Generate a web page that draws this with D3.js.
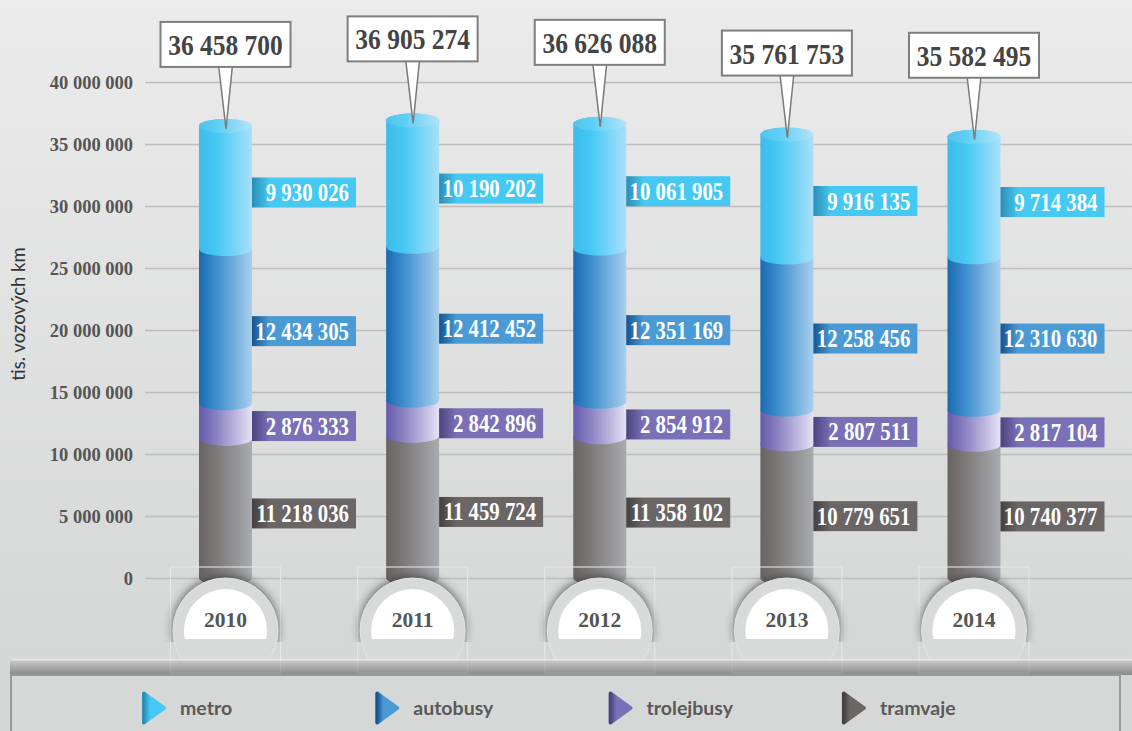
<!DOCTYPE html>
<html>
<head>
<meta charset="utf-8">
<script src="https://cdn.jsdelivr.net/npm/d3@7"></script>
<style>
  html, body { margin: 0; padding: 0; background: #e4e5e5; }
  svg { display: block; }
</style>
</head>
<body>
<svg id="chart" width="1132" height="731"></svg>
<script>
// data
var years = [2010, 2011, 2012, 2013, 2014]
var metro = [9930026, 10190202, 10061905, 9916135, 9714384]
var autobusy = [12434305, 12412452, 12351169, 12258456, 12310630]
var trolejbusy = [2876333, 2842896, 2854912, 2807511, 2817104]
var tramvaje = [11218036, 11459724, 11358102, 10779651, 10740377]
var totals = [36458700, 36905274, 36626088, 35761753, 35582495]
var yTicks = [0, 5000000, 10000000, 15000000, 20000000, 25000000, 30000000, 35000000, 40000000]
var legendNames = ['metro', 'autobusy', 'trolejbusy', 'tramvaje']
var yTitle = 'tis. vozových km'

// colours per series: body gradient, box colour, box dark edge
var colors = {
  metro:      { body: ['#3dbbe9', '#47c9f4', '#a9e0f8'], box: '#45c8f2', dark: '#2b8db5' },
  autobusy:   { body: ['#1b6ab1', '#3f90d0', '#a9cfec'], box: '#4a9ad6', dark: '#17548f' },
  trolejbusy: { body: ['#665aab', '#8d84c3', '#e6e3f5'], box: '#7a70b8', dark: '#4c447f' },
  tramvaje:   { body: ['#696464', '#7d7a7a', '#a9abaf'], box: '#6b6666', dark: '#454141' }
}

var W = 1132, H = 731
var fmt = function(v){ return d3.format(',')(v).replace(/,/g, ' ') }
var serif = '"Liberation Serif", "DejaVu Serif", serif'
var sans = 'Lato, "Open Sans", sans-serif'

var svg = d3.select('#chart')
var defs = svg.append('defs')

var bg = defs.append('linearGradient').attr('id', 'bg').attr('x1', 0).attr('y1', 0).attr('x2', 0).attr('y2', 1)
bg.append('stop').attr('offset', 0).attr('stop-color', '#ebebeb')
bg.append('stop').attr('offset', 0.85).attr('stop-color', '#d6d8d7')
bg.append('stop').attr('offset', 1).attr('stop-color', '#d5d7d6')

var band = defs.append('linearGradient').attr('id', 'band').attr('x1', 0).attr('y1', 0).attr('x2', 0).attr('y2', 1)
band.append('stop').attr('offset', 0).attr('stop-color', '#c4c4c4')
band.append('stop').attr('offset', 1).attr('stop-color', '#8a8a8a')

defs.append('filter').attr('id', 'blur').attr('x', '-30%').attr('y', '-30%').attr('width', '160%').attr('height', '160%')
  .append('feGaussianBlur').attr('stdDeviation', 4)
defs.append('clipPath').attr('id', 'clipShadow').append('rect').attr('x', 0).attr('y', 0).attr('width', W).attr('height', 642)
defs.append('clipPath').attr('id', 'clipWhite').append('rect').attr('x', 0).attr('y', 0).attr('width', W).attr('height', 639)

Object.keys(colors).forEach(function(k){
  var c = colors[k]
  var g = defs.append('linearGradient').attr('id', 'body-' + k)
  g.append('stop').attr('offset', 0).attr('stop-color', c.body[0])
  g.append('stop').attr('offset', 0.35).attr('stop-color', c.body[1])
  g.append('stop').attr('offset', 1).attr('stop-color', c.body[2])
  var b = defs.append('linearGradient').attr('id', 'box-' + k)
  b.append('stop').attr('offset', 0).attr('stop-color', c.dark)
  b.append('stop').attr('offset', 0.17).attr('stop-color', c.box)
  b.append('stop').attr('offset', 1).attr('stop-color', c.box)
  var t = defs.append('linearGradient').attr('id', 'tri-' + k)
  t.append('stop').attr('offset', 0).attr('stop-color', c.dark)
  t.append('stop').attr('offset', 0.3).attr('stop-color', c.box)
  t.append('stop').attr('offset', 1).attr('stop-color', c.box)
})

svg.append('rect').attr('width', W).attr('height', H).attr('fill', 'url(#bg)')

var x = d3.scalePoint().domain(years).range([225.5, 974])
var y = d3.scaleLinear().domain([0, 40000000]).range([578, 82])
var rx = 26.5, ry = 7

// axis with grid lines
var axisG = svg.append('g').attr('transform', 'translate(145,0)')
  .call(d3.axisLeft(y).tickValues(yTicks).tickSizeInner(-(W - 145)).tickSizeOuter(0).tickPadding(12).tickFormat(fmt))
axisG.select('.domain').remove()
axisG.selectAll('.tick line').attr('stroke', '#bdbdbd').attr('stroke-width', 1.6)
axisG.selectAll('.tick text').attr('fill', '#555').attr('font-family', serif)
  .attr('font-weight', 'bold').attr('font-size', 18.5).attr('dy', '0.34em')

svg.append('text').attr('transform', 'translate(25,314) rotate(-90)')
  .attr('text-anchor', 'middle').attr('font-family', sans).attr('font-size', 18.5)
  .attr('fill', '#333').text(yTitle)

// stacked cylinders
var rows = years.map(function(yr, i){
  return { year: yr, metro: metro[i], autobusy: autobusy[i], trolejbusy: trolejbusy[i], tramvaje: tramvaje[i] }
})
var keys = ['tramvaje', 'trolejbusy', 'autobusy', 'metro']
var stacked = d3.stack().keys(keys)(rows)

function segPath(cx, y0, y1){
  var l = cx - rx, r = cx + rx
  return 'M' + l + ',' + y1 + 'L' + l + ',' + y0 +
    'A' + rx + ',' + ry + ' 0 0 0 ' + r + ',' + y0 +
    'L' + r + ',' + y1 +
    'A' + rx + ',' + ry + ' 0 0 0 ' + l + ',' + y1 + 'Z'
}

var cylG = svg.append('g')
stacked.forEach(function(layer){
  cylG.selectAll(null).data(layer).enter().append('path')
    .attr('d', function(d){ return segPath(x(d.data.year), y(d[0]), y(d[1])) })
    .attr('fill', 'url(#body-' + layer.key + ')')
})
var topLayer = stacked[stacked.length - 1]
cylG.selectAll(null).data(topLayer).enter().append('ellipse')
  .attr('cx', function(d){ return x(d.data.year) }).attr('cy', function(d){ return y(d[1]) })
  .attr('rx', rx).attr('ry', ry).attr('fill', 'url(#body-metro)')
cylG.selectAll(null).data(topLayer).enter().append('ellipse')
  .attr('cx', function(d){ return x(d.data.year) }).attr('cy', function(d){ return y(d[1]) })
  .attr('rx', rx).attr('ry', ry).attr('fill', '#fff').attr('opacity', 0.12)

// year badges
var badgeCy = 630.5
var badge = svg.append('g').selectAll('g').data(years).enter().append('g')
badge.append('rect').attr('x', function(d){ return x(d) - 55 }).attr('y', 567).attr('width', 110).attr('height', 106)
  .attr('fill', 'none').attr('stroke', '#e3e4e4').attr('stroke-width', 1)
badge.append('circle').attr('cx', function(d){ return x(d) }).attr('cy', badgeCy - 2).attr('r', 53)
  .attr('fill', '#2e2e2e').attr('opacity', 0.65).attr('filter', 'url(#blur)').attr('clip-path', 'url(#clipShadow)')
badge.append('circle').attr('cx', function(d){ return x(d) }).attr('cy', badgeCy).attr('r', 52.5)
  .attr('fill', '#d8dad9').attr('stroke', '#e3e4e4').attr('stroke-width', 1)
badge.append('circle').attr('cx', function(d){ return x(d) }).attr('cy', badgeCy).attr('r', 41.5)
  .attr('fill', '#fff').attr('clip-path', 'url(#clipWhite)')
badge.append('text').attr('x', function(d){ return x(d) }).attr('y', 627)
  .attr('text-anchor', 'middle').attr('font-family', serif).attr('font-weight', 'bold')
  .attr('font-size', 21.5).attr('fill', '#555').text(function(d){ return d })

// bottom band and legend box
svg.append('line').attr('x1', 12).attr('x2', W).attr('y1', 659.5).attr('y2', 659.5).attr('stroke', '#e8e8e8')
svg.append('rect').attr('x', 10).attr('y', 661).attr('width', W - 10).attr('height', 14).attr('fill', 'url(#band)')
svg.append('g').selectAll('rect').data(years).enter().append('rect')
  .attr('x', function(d){ return x(d) - 55 }).attr('y', 567).attr('width', 110).attr('height', 106)
  .attr('fill', 'none').attr('stroke', '#fff').attr('stroke-opacity', 0.12)
svg.append('rect').attr('x', 11).attr('y', 675).attr('width', 1109).attr('height', 62)
  .attr('fill', '#d6d8d7').attr('stroke', '#999').attr('stroke-width', 2)

var legend = svg.append('g').selectAll('g').data(legendNames).enter().append('g')
  .attr('transform', function(d, i){ return 'translate(' + (144 + i * 233.3) + ',708)' })
legend.append('path').attr('d', 'M0,-14.5L20,0L0,14.5Z')
  .attr('fill', function(d){ return 'url(#tri-' + d + ')' })
  .attr('stroke', function(d){ return 'url(#tri-' + d + ')' })
  .attr('stroke-width', 4).attr('stroke-linejoin', 'round')
legend.append('text').attr('x', 36).attr('y', 7).attr('font-family', sans).attr('font-weight', 'bold')
  .attr('font-size', 19.5).attr('fill', '#5a5a5a').text(function(d){ return d })

// segment value boxes
var boxW = 104, boxH = 30
stacked.forEach(function(layer){
  var g = svg.append('g').selectAll('g').data(layer).enter().append('g')
    .attr('transform', function(d){
      var cy = (y(d[0]) + y(d[1])) / 2 + 5
      return 'translate(' + (x(d.data.year) + rx) + ',' + cy + ')'
    })
  g.append('rect').attr('x', 0).attr('y', -boxH / 2).attr('width', boxW).attr('height', boxH)
    .attr('fill', 'url(#box-' + layer.key + ')')
  g.append('text').attr('transform', 'translate(' + (boxW - 7) + ',8.5) scale(0.85,1)')
    .attr('text-anchor', 'end').attr('font-family', serif).attr('font-weight', 'bold')
    .attr('font-size', 24.5).attr('fill', '#fff')
    .text(function(d){ return fmt(d[1] - d[0]) })
})

// total callouts
var call = svg.append('g').selectAll('g').data(years).enter().append('g')
call.append('path').attr('d', function(d, i){
  var cx = x(d), ty = y(totals[i]), bb = ty - 59
  return 'M' + (cx - 7) + ',' + (bb - 2) + 'L' + (cx + 0.5) + ',' + (ty + 3) + 'L' + (cx + 7) + ',' + (bb - 2) + 'Z'
}).attr('fill', '#fff').attr('stroke', '#7a7a7a').attr('stroke-width', 1.5)
call.append('rect').attr('x', function(d){ return x(d) - 65 }).attr('y', function(d, i){ return y(totals[i]) - 59 - 45 })
  .attr('width', 130).attr('height', 45).attr('fill', '#fff').attr('stroke', '#7e7e7e').attr('stroke-width', 2)
call.append('text').attr('transform', function(d, i){
  return 'translate(' + x(d) + ',' + (y(totals[i]) - 59 - 12) + ') scale(0.85,1)'
}).attr('text-anchor', 'middle').attr('font-family', serif).attr('font-weight', 'bold')
  .attr('font-size', 30).attr('fill', '#444').text(function(d, i){ return fmt(totals[i]) })
</script>
</body>
</html>
